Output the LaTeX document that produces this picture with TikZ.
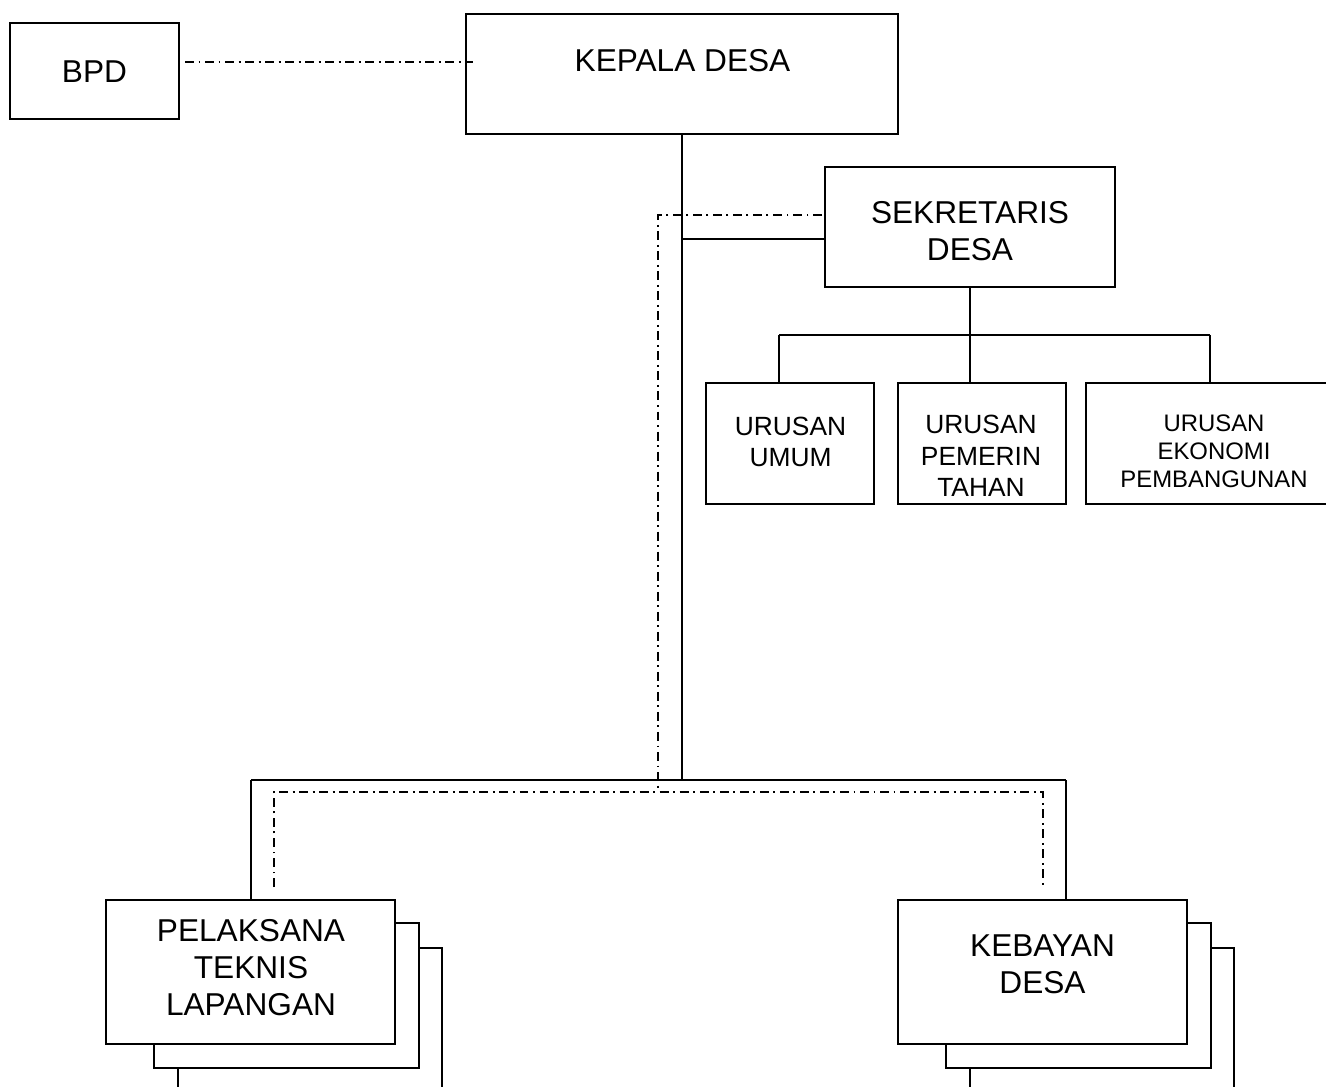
\documentclass[tikz,border=0pt]{standalone}
\usepackage{fontspec}
\setmainfont{Liberation Sans}
\usetikzlibrary{calc}

\tikzset{
  box/.style={draw, line width=1.1pt, fill=white, rectangle, inner sep=0pt},
  lbl/.style={align=center, inner sep=0pt},
  big/.style={font=\fontsize{18}{21}\selectfont},
  mid/.style={font=\fontsize{15}{18}\selectfont},
  small/.style={font=\fontsize{13.6}{16}\selectfont},
  line/.style={line width=1.1pt},
  coordline/.style={line width=1pt, dash pattern=on 5.1pt off 2.6pt on 1.1pt off 2.6pt}
}

\begin{document}
\begin{tikzpicture}[x=0.02cm, y=-0.02cm]
\useasboundingbox (0,0) rectangle (1326,1087);
\clip (0,0) rectangle (1326,1087);

% boxes
\node[box, minimum width=3.38cm, minimum height=1.92cm] (bpd) at (94.5,71) {};
\node[box, minimum width=8.64cm, minimum height=2.4cm] (kades) at (682,74) {};
\node[box, minimum width=5.8cm, minimum height=2.4cm] (sekdes) at (970,227) {};
\node[box, minimum width=3.36cm, minimum height=2.42cm] (umum) at (790,443.5) {};
\node[box, minimum width=3.36cm, minimum height=2.42cm] (pem) at (982,443.5) {};
\node[box, minimum width=5.12cm, minimum height=2.42cm] (ekbang) at (1214,443.5) {};

% stacked boxes
\draw[box] (178,948) rectangle (442,1093);
\draw[box] (154,923) rectangle (419,1068);
\node[box, minimum width=5.78cm, minimum height=2.88cm] (pelaksana) at (250.5,972) {};
\draw[box] (970,948) rectangle (1234,1093);
\draw[box] (946,923) rectangle (1211,1068);
\node[box, minimum width=5.78cm, minimum height=2.88cm] (kebayan) at (1042.5,972) {};

% texts
\node[lbl, big] (bpd-t) at (94.5,72) {BPD};
\node[lbl, big] (kades-t) at (682.5,60.5) {KEPALA DESA};
\node[lbl, big] (sekdes-t) at (970,231.5) {SEKRETARIS\\DESA};
\node[lbl, mid] (umum-t) at (790.5,442) {URUSAN\\UMUM};
\begin{scope}
\clip (pem.north west) rectangle ($(pem.south east)+(0,-8)$);
\node[lbl, mid] (pem-t) at (981,456) {URUSAN\\PEMERIN\\TAHAN};
\end{scope}
\node[lbl, small] (ekbang-t) at (1214,451) {URUSAN\\EKONOMI\\PEMBANGUNAN};
\node[lbl, big] (pelaksana-t) at (251,968) {PELAKSANA\\TEKNIS\\LAPANGAN};
\node[lbl, big] (kebayan-t) at (1042.5,964) {KEBAYAN\\DESA};

% solid lines
\coordinate (bus-l) at (251,780);
\coordinate (bus-r) at (1066,780);
\coordinate (sek-in) at (682,239);
\coordinate (ur-l) at (779,335);
\coordinate (ur-r) at (1210,335);

\draw[line] (kades.south) -- (kades.south |- bus-l);
\draw[line] (bus-l) -- (bus-r);
\draw[line] (bus-l) -- (bus-l |- pelaksana.north);
\draw[line] (bus-r) -- (bus-r |- kebayan.north);
\draw[line] (sek-in) -- (sek-in -| sekdes.west);
\draw[line] (sekdes.south) -- (sekdes.south |- ur-l);
\draw[line] (ur-l) -- (ur-r);
\draw[line] (ur-l) -- (ur-l |- umum.north);
\draw[line] (sekdes.south |- ur-l) -- (sekdes.south |- pem.north);
\draw[line] (ur-r) -- (ur-r |- ekbang.north);

% coordination lines
\coordinate (bpd-k) at (185,62);
\coordinate (kades-k) at (473,62);
\coordinate (sek-k) at (822,215);
\coordinate (kk-l) at (274,792);
\coordinate (kk-r) at (1043,792);

\draw[coordline] (bpd-k) -- (kades-k);
\draw[coordline] (sek-k) -- (658,215) -- (658,792);
\draw[coordline] (kk-l |- 0,887) -- (kk-l) -- (kk-r) -- (kk-r |- 0,887);

\end{tikzpicture}
\end{document}
